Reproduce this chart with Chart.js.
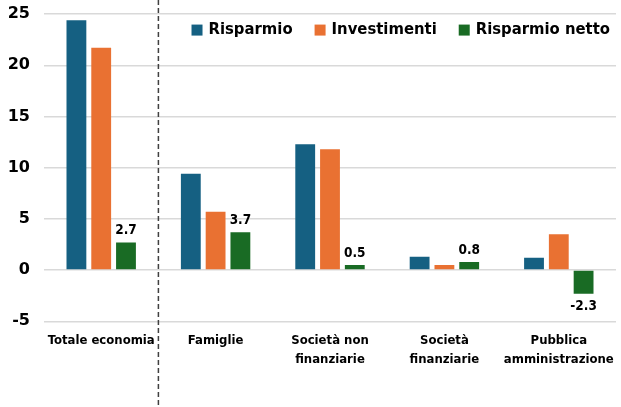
<!DOCTYPE html>
<html>
<head>
<meta charset="utf-8">
<script src="https://cdn.jsdelivr.net/npm/chart.js@4"></script>
<style>
  html, body { margin: 0; padding: 0; background: #fff; }
  #wrap { width: 621px; height: 407px; }
</style>
</head>
<body>
<div id="wrap"><canvas id="chart"></canvas></div>
<script>
const categories = ["Totale economia", "Famiglie", ["Società non", "finanziarie"], ["Società", "finanziarie"], ["Pubblica", "amministrazione"]];
const risparmio = [24.4, 9.4, 12.3, 1.3, 1.2];
const investimenti = [21.7, 5.7, 11.8, 0.5, 3.5];
const risparmioNetto = [2.7, 3.7, 0.5, 0.8, -2.3];
const yTicks = [-5, 0, 5, 10, 15, 20, 25];

const narrow = "'Liberation Sans Narrow', 'DejaVu Sans Condensed', sans-serif";

// dashed separator between total and the sectors
const separator = {
  id: "separator",
  afterDraw(chart) {
    const x = chart.scales.x;
    const px = (x.getPixelForTick(0) + x.getPixelForTick(1)) / 2;
    const ctx = chart.ctx;
    ctx.save();
    ctx.strokeStyle = "#404040";
    ctx.lineWidth = 1.5;
    ctx.setLineDash([5, 3]);
    ctx.beginPath();
    ctx.moveTo(px, 0);
    ctx.lineTo(px, chart.height);
    ctx.stroke();
    ctx.restore();
  }
};

// value labels only on the net saving bars
const netLabels = {
  id: "netLabels",
  afterDatasetsDraw(chart) {
    const meta = chart.getDatasetMeta(2);
    const ctx = chart.ctx;
    ctx.save();
    ctx.font = "bold 13.5px " + narrow;
    ctx.fillStyle = "#000";
    ctx.textAlign = "center";
    meta.data.forEach((bar, i) => {
      const v = risparmioNetto[i];
      if (v >= 0) {
        ctx.textBaseline = "bottom";
        ctx.fillText(v.toFixed(1), bar.x, bar.y - 5);
      } else {
        ctx.textBaseline = "top";
        ctx.fillText(v.toFixed(1), bar.x, bar.y + 6);
      }
    });
    ctx.restore();
  }
};

// legend drawn in one row inside the top right of the plot
const innerLegend = {
  id: "innerLegend",
  afterDraw(chart) {
    const ctx = chart.ctx;
    const area = chart.chartArea;
    ctx.save();
    ctx.font = "bold 16.5px " + narrow;
    ctx.textBaseline = "middle";
    ctx.textAlign = "left";
    const box = 11, gapBox = 6, gapItem = 22;
    const items = chart.data.datasets.map(ds => ({ text: ds.label, color: ds.backgroundColor, w: ctx.measureText(ds.label).width }));
    let total = items.reduce((s, it) => s + box + gapBox + it.w, 0) + gapItem * (items.length - 1);
    let x = area.right - 6 - total;
    const y = area.top + 16;
    items.forEach(it => {
      ctx.fillStyle = it.color;
      ctx.fillRect(x, y - box / 2, box, box);
      ctx.fillStyle = "#000";
      ctx.fillText(it.text, x + box + gapBox, y);
      x += box + gapBox + it.w + gapItem;
    });
    ctx.restore();
  }
};

new Chart("chart", {
  type: "bar",
  data: {
    labels: categories,
    datasets: [
      { label: "Risparmio", backgroundColor: "#156082", data: risparmio },
      { label: "Investimenti", backgroundColor: "#E97132", data: investimenti },
      { label: "Risparmio netto", backgroundColor: "#196B24", data: risparmioNetto }
    ]
  },
  options: {
    responsive: true,
    maintainAspectRatio: false,
    animation: false,
    categoryPercentage: 0.65,
    barPercentage: 0.8,
    layout: { autoPadding: false, padding: { left: 0, right: 5, top: 14, bottom: 36 } },
    plugins: {
      tooltip: { enabled: false },
      legend: { display: false }
    },
    scales: {
      x: {
        grid: { display: false },
        border: { display: false },
        ticks: {
          color: "#000",
          font: { family: narrow, size: 13, weight: "bold", lineHeight: 1.45 },
          padding: 2,
          maxRotation: 0,
          autoSkip: false
        }
      },
      y: {
        min: -5,
        max: 25,
        afterBuildTicks: axis => { axis.ticks = yTicks.map(v => ({ value: v })); },
        afterFit: axis => { axis.width = 44; },
        grid: { color: "#d9d9d9", lineWidth: 1.5, drawTicks: false },
        border: { display: false },
        ticks: {
          color: "#000",
          font: { family: "'DejaVu Sans', sans-serif", size: 16, weight: "bold", lineHeight: 0.01 },
          padding: 14
        }
      }
    }
  },
  plugins: [separator, netLabels, innerLegend]
});
</script>
</body>
</html>
